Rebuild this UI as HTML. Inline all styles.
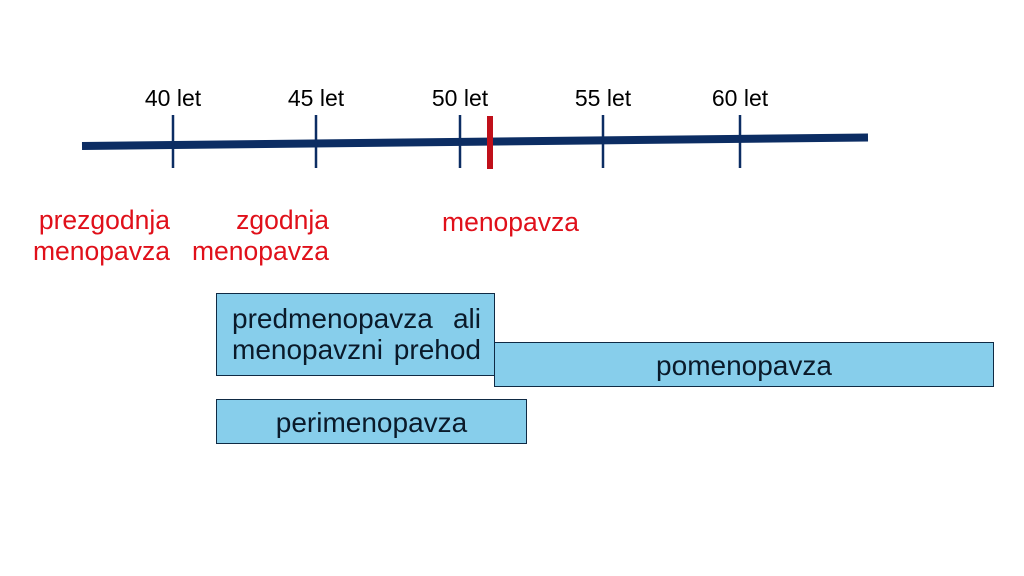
<!DOCTYPE html>
<html><head><meta charset="utf-8"><style>
body{margin:0;width:1024px;height:576px;background:#fff;position:relative;overflow:hidden;font-family:"Liberation Sans",Arial,sans-serif}
.t{position:absolute;font-size:23px;color:#000;width:100px;text-align:center;line-height:1}
.r{position:absolute;font-size:26.5px;color:#e0101a;line-height:31px;white-space:nowrap}
.b{position:absolute;background:#87ceeb;border:1.5px solid #0f2a44;box-sizing:border-box;font-size:28px;color:#0a1a2a;line-height:31px;text-align:center}
</style></head><body>
<svg width="1024" height="576" style="position:absolute;left:0;top:0">
<line x1="82" y1="146" x2="868" y2="137.5" stroke="#0c2d63" stroke-width="8"/>
<g stroke="#0c2d63" stroke-width="2.5">
<line x1="173" y1="115" x2="173" y2="168"/>
<line x1="316" y1="115" x2="316" y2="168"/>
<line x1="460" y1="115" x2="460" y2="168"/>
<line x1="603" y1="115" x2="603" y2="168"/>
<line x1="740" y1="115" x2="740" y2="168"/>
</g>
<line x1="490" y1="116" x2="490" y2="169" stroke="#c0101a" stroke-width="6"/>
</svg>
<div class="t" style="left:123px;top:87px">40 let</div>
<div class="t" style="left:266px;top:87px">45 let</div>
<div class="t" style="left:410px;top:87px">50 let</div>
<div class="t" style="left:553px;top:87px">55 let</div>
<div class="t" style="left:690px;top:87px">60 let</div>
<div class="r" style="right:854px;top:205px;text-align:right">prezgodnja<br>menopavza</div>
<div class="r" style="right:695px;top:205px;text-align:right">zgodnja<br>menopavza</div>
<div class="r" style="left:442px;top:207px">menopavza</div>
<div class="b" style="left:216px;top:293px;width:279px;height:83px;padding:9px 13px 0 15px;text-align:justify;text-align-last:justify">predmenopavza ali<br>menopavzni prehod</div>
<div class="b" style="left:494px;top:342px;width:500px;height:45px;padding-top:7px">pomenopavza</div>
<div class="b" style="left:216px;top:399px;width:311px;height:45px;padding-top:7px">perimenopavza</div>
</body></html>
